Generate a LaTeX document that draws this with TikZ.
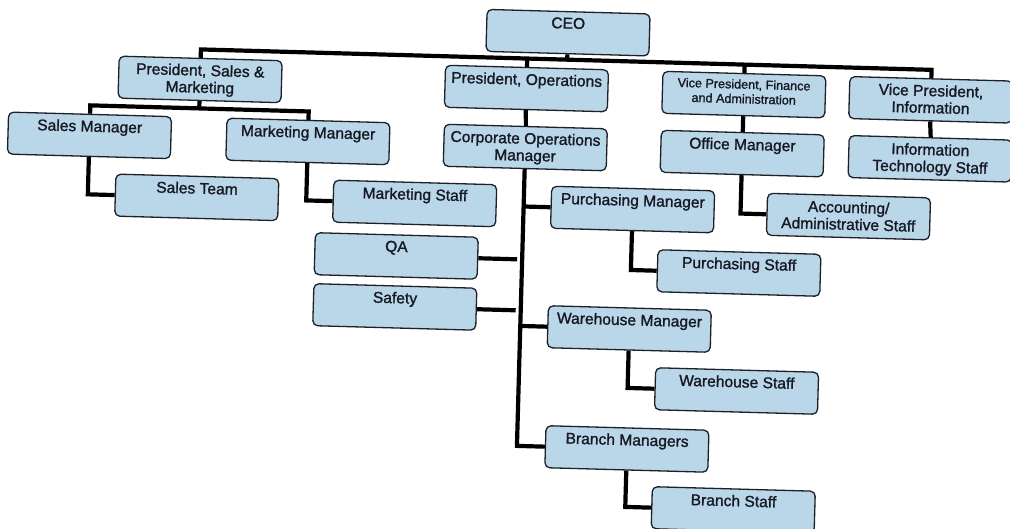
\documentclass[tikz,border=0pt]{standalone}
\usepackage{fontspec}
\newfontfamily\boxfont{Liberation Sans}[FakeBold=1.3]
\definecolor{boxfill}{RGB}{186,215,233}
\definecolor{boxline}{RGB}{30,32,40}
\definecolor{textc}{RGB}{22,24,34}
\tikzset{
  orgbox/.style={draw=boxline, line width=1.3pt, fill=boxfill, rounded corners=5pt,
    minimum width=163pt, minimum height=42pt, inner sep=0pt, text=textc},
  conn/.style={line width=4.2pt, draw=black, line join=miter}
}
\newcommand{\bt}[1]{\parbox[c][42pt][t]{160pt}{\centering\boxfont\fontsize{15.6}{17}\selectfont\vspace*{6pt}#1}}
\newcommand{\bts}[1]{\parbox[c][42pt][t]{160pt}{\centering\boxfont\fontsize{12.6}{14.6}\selectfont\vspace*{6pt}#1}}
\begin{document}
\begin{tikzpicture}[x=1pt,y=-1pt]
\clip (0,0) rectangle (1010,529);
\fill[white] (0,0) rectangle (1010,529);
\begin{scope}[rotate around={-1.6:(505,265)}, transform shape]
% level 0
\node[orgbox] (ceo) at (561.5,31) {\bt{CEO}};
% level 1
\node[orgbox] (psm) at (195,88) {\bt{President, Sales \&\\Marketing}};
\node[orgbox] (po)  at (521.5,88) {\bt{President, Operations}};
\node[orgbox] (vpf) at (739,88) {\bts{Vice President, Finance\\and Administration}};
\node[orgbox] (vpi) at (926,88) {\bt{Vice President,\\Information}};
% level 2
\node[orgbox] (sm)  at (86,147) {\bt{Sales Manager}};
\node[orgbox] (mm)  at (304.5,147) {\bt{Marketing Manager}};
\node[orgbox] (com) at (522,147) {\bt{Corporate Operations\\Manager}};
\node[orgbox] (om)  at (739,147) {\bt{Office Manager}};
\node[orgbox] (its) at (927,147) {\bt{Information\\Technology Staff}};
% level 3
\node[orgbox] (st)  at (195,206) {\bt{Sales Team}};
\node[orgbox] (ms)  at (413,206) {\bt{Marketing Staff}};
\node[orgbox] (pm)  at (631,206) {\bt{Purchasing Manager}};
\node[orgbox] (acc) at (847,207) {\bt{Accounting/\\Administrative Staff}};
% lower
\node[orgbox] (qa)  at (396,259) {\bt{QA}};
\node[orgbox] (ps)  at (739,266.5) {\bt{Purchasing Staff}};
\node[orgbox] (saf) at (396,310) {\bt{Safety}};
\node[orgbox] (wm)  at (631,325.5) {\bt{Warehouse Manager}};
\node[orgbox] (ws)  at (740,384.5) {\bt{Warehouse Staff}};
\node[orgbox] (bm)  at (632,445.5) {\bt{Branch Managers}};
\node[orgbox] (bs)  at (740,503.5) {\bt{Branch Staff}};
% connectors
\coordinate (b1) at (0,58);
\coordinate (b2) at (0,117);
\draw[conn] (ceo.south) -- (ceo.south |- b1);
\draw[conn] (psm.north) |- (vpi.north |- b1) -- (vpi.north);
\draw[conn] (po.north) -- (po.north |- b1);
\draw[conn] (vpf.north) -- (vpf.north |- b1);
\draw[conn] (psm.south) -- (psm.south |- b2);
\draw[conn] (sm.north) |- (mm.north |- b2) -- (mm.north);
\draw[conn] (sm.south) |- (st.west);
\draw[conn] (mm.south) |- (ms.west);
\draw[conn] (po.south) -- (com.north);
\draw[conn] (com.south) |- (bm.west);
\draw[conn] (com.south |- pm.west) -- (pm.west);
\draw[conn] (com.south |- wm.west) -- (wm.west);
\coordinate (qaend) at ([xshift=-5pt]com.south |- qa.east);
\coordinate (safend) at ([xshift=-5pt]com.south |- saf.east);
\draw[conn] (qa.east) -- (qaend);
\draw[conn] (saf.east) -- (safend);
\draw[conn] (pm.south) |- (ps.west);
\draw[conn] (wm.south) |- (ws.west);
\draw[conn] (bm.south) |- (bs.west);
\draw[conn] (vpf.south) -- (om.north);
\draw[conn] (om.south) |- (acc.west);
\draw[conn] (vpi.south) -- (its.north);
\end{scope}
\end{tikzpicture}
\end{document}
